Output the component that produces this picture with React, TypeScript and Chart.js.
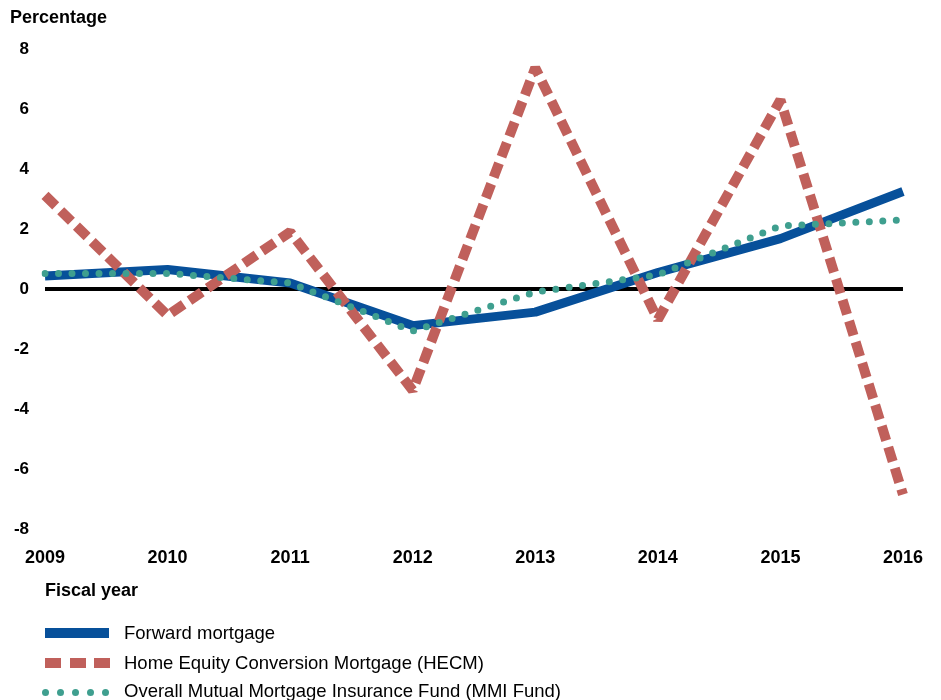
import React, { useEffect, useRef } from "react";
import { Chart, registerables } from "chart.js";

Chart.register(...registerables);

const years = ["2009", "2010", "2011", "2012", "2013", "2014", "2015", "2016"];
const forwardMortgage = [0.43, 0.65, 0.2, -1.22, -0.77, 0.55, 1.68, 3.25];
const hecm = [3.12, -0.88, 1.9, -3.38, 7.37, -1.02, 6.3, -6.85];
const mmiFund = [0.52, 0.52, 0.2, -1.4, -0.1, 0.47, 2.1, 2.3];
const yTicks = [-8, -6, -4, -2, 0, 2, 4, 6, 8];
const legendLabels = [
  "Forward mortgage",
  "Home Equity Conversion Mortgage (HECM)",
  "Overall Mutual Mortgage Insurance Fund (MMI Fund)",
];

const BLUE = "#07509a";
const RED = "#c0605b";
const TEAL = "#3f9f8f";
const FONT = '"Liberation Sans", Arial, Helvetica, sans-serif';

export default function App() {
  const canvasRef = useRef<HTMLCanvasElement | null>(null);

  useEffect(() => {
    const canvas = canvasRef.current;
    if (!canvas) return;
    const chart = new Chart(canvas, {
      type: "line",
      data: {
        labels: years,
        datasets: [
          {
            label: legendLabels[0],
            data: forwardMortgage,
            borderColor: BLUE,
            backgroundColor: BLUE,
            borderWidth: 9,
            pointRadius: 0,
            tension: 0,
            borderJoinStyle: "bevel",
            order: 2,
          },
          {
            label: legendLabels[1],
            data: hecm,
            borderColor: RED,
            backgroundColor: RED,
            borderWidth: 10,
            borderDash: [15, 7],
            borderCapStyle: "butt",
            pointRadius: 0,
            tension: 0,
            borderJoinStyle: "bevel",
            order: 1,
          },
          {
            label: legendLabels[2],
            data: mmiFund,
            borderColor: TEAL,
            backgroundColor: TEAL,
            borderWidth: 7,
            borderDash: [0, 13.5],
            borderCapStyle: "round",
            pointRadius: 0,
            tension: 0,
            order: 0,
          },
        ],
      },
      options: {
        animation: false,
        responsive: false,
        maintainAspectRatio: false,
        layout: { padding: { left: 0, right: 35, top: 49, bottom: 0 } },
        plugins: {
          legend: { display: false },
          title: { display: false },
          tooltip: { enabled: false },
        },
        scales: {
          x: {
            type: "category",
            offset: false,
            grid: { display: false, drawTicks: false },
            border: { display: false },
            ticks: {
              color: "#000",
              padding: 18,
              maxRotation: 0,
              autoSkip: false,
              font: { family: FONT, size: 18, weight: "bold" },
            },
            afterFit: (scale: any) => {
              scale.height = 171;
            },
          },
          y: {
            min: -8,
            max: 8,
            afterBuildTicks: (scale: any) => {
              scale.ticks = yTicks.map((v) => ({ value: v }));
            },
            grid: {
              drawTicks: false,
              color: (ctx: any) => (ctx.tick && ctx.tick.value === 0 ? "#000" : "rgba(0,0,0,0)"),
              lineWidth: (ctx: any) => (ctx.tick && ctx.tick.value === 0 ? 4 : 0),
            },
            border: { display: false },
            ticks: {
              color: "#000",
              padding: 16,
              font: { family: FONT, size: 17, weight: "bold" },
            },
            afterFit: (scale: any) => {
              scale.width = 45;
            },
          },
        },
      },
    });
    return () => chart.destroy();
  }, []);

  const textBase: React.CSSProperties = {
    position: "absolute",
    fontFamily: FONT,
    color: "#000",
    whiteSpace: "nowrap",
    lineHeight: "20px",
    height: 20,
  };

  return (
    <div style={{ position: "absolute", left: 0, top: 0, width: 941, height: 700, background: "#fff", overflow: "hidden" }}>
      <canvas ref={canvasRef} width={941} height={700} style={{ position: "absolute", left: 0, top: 0, width: 941, height: 700 }} />
      <div style={{ ...textBase, left: 10, top: 7, fontSize: 18, fontWeight: "bold" }}>Percentage</div>
      <div style={{ ...textBase, left: 45, top: 580, fontSize: 18, fontWeight: "bold" }}>Fiscal year</div>
      {/* legend swatches */}
      <div style={{ position: "absolute", left: 45, top: 628, width: 64, height: 10, background: BLUE }} />
      {[45, 70, 94].map((x) => (
        <div key={x} style={{ position: "absolute", left: x, top: 658, width: 16, height: 10, background: RED }} />
      ))}
      {[45, 60, 75, 90, 105].map((x) => (
        <div key={x} style={{ position: "absolute", left: x - 3.5, top: 688.5, width: 7, height: 7, borderRadius: "50%", background: TEAL }} />
      ))}
      <div style={{ ...textBase, left: 124, top: 623, fontSize: 18.5 }}>{legendLabels[0]}</div>
      <div style={{ ...textBase, left: 124, top: 653, fontSize: 18.5 }}>{legendLabels[1]}</div>
      <div style={{ ...textBase, left: 124, top: 681, fontSize: 18.5 }}>{legendLabels[2]}</div>
    </div>
  );
}
